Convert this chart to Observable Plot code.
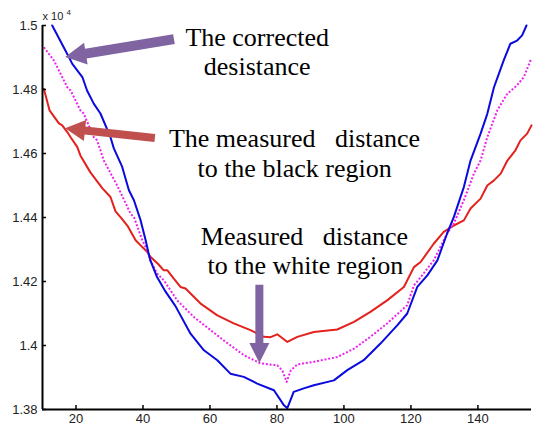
<!DOCTYPE html>
<html>
<head>
<meta charset="utf-8">
<script src="https://cdn.jsdelivr.net/npm/d3@7"></script>
<script src="https://cdn.jsdelivr.net/npm/@observablehq/plot@0.6"></script>
<style>
  body { margin: 0; background: #fff; }
  svg text { white-space: pre; }
</style>
</head>
<body>
<div id="chart"></div>
<script>
// ---- Data (values are raw distances; axis shows ×10^4) ----
const xTicks = [20, 40, 60, 80, 100, 120, 140];
const yTicks = [13800, 14000, 14200, 14400, 14600, 14800, 15000];

// The corrected distance (blue, solid)
const xCorrected = [12.9,17.9,18.9,21.9,23.3,25.3,27.3,30.3,31.3,33.8,35.8,37.3,39.3,40.8,41.7,42.2,44.2,46.7,49.7,54.2,58.2,62.2,66.1,70.1,74.1,79.1,82.1,83.1,85.0,88.0,91.0,97.0,101.0,105.9,110.9,115.9,118.9,121.9,124.9,127.9,130.8,132.8,135.8,137.8,140.8,142.8,144.8,147.7,149.7,151.7,153.2,154.5];
const corrected = [15000,14901,14880,14839,14797,14756,14725,14651,14616,14558,14485,14454,14391,14329,14287,14266,14214,14169,14123,14037,13985,13954,13912,13902,13881,13860,13813,13804,13855,13866,13876,13891,13923,13954,14006,14063,14100,14183,14219,14266,14350,14401,14495,14578,14662,14724,14807,14891,14943,14953,14969,15000];

// Measured distance to the white region (magenta, dotted)
const xWhite = [10.4,13.4,14.4,17.4,18.4,21.3,22.3,25.3,26.3,27.3,28.3,32.3,36.3,37.3,39.8,41.3,42.2,44.2,46.2,48.2,50.2,55.2,60.2,64.1,70.1,75.1,80.1,81.6,82.9,84.1,86.1,91.0,98.0,103.0,107.9,112.9,118.9,120.9,122.9,126.8,130.8,132.8,135.8,138.8,140.8,142.8,145.8,148.8,151.7,153.7,155.9];
const white = [14932,14891,14870,14807,14797,14735,14725,14651,14641,14610,14578,14500,14412,14401,14329,14297,14266,14225,14204,14173,14141,14089,14048,14016,13970,13944,13938,13922,13886,13922,13941,13949,13964,13990,14027,14069,14126,14188,14213,14266,14350,14381,14454,14537,14578,14651,14735,14787,14813,14839,14896];

// Measured distance to the black region (red, solid)
const xBlack = [10.4,12.1,14.9,15.9,17.4,18.4,20.4,21.3,24.3,27.9,30.3,31.8,33.6,35.5,37.8,39.3,41.3,42.2,44.6,46.2,47.3,49.2,51.2,52.7,57.2,62.2,67.1,72.1,76.1,78.1,80.1,83.1,86.1,91.0,98.0,103.0,107.9,112.9,117.9,120.9,122.9,126.8,129.8,132.8,135.8,137.8,140.8,142.8,144.8,146.8,148.8,151.2,152.7,154.7,156.0];
const black = [14802,14735,14694,14688,14667,14651,14620,14594,14541,14491,14464,14419,14397,14372,14329,14313,14292,14277,14254,14235,14235,14209,14183,14178,14131,14094,14069,14048,14027,14026,14035,14011,14027,14042,14050,14074,14105,14141,14183,14245,14261,14318,14355,14375,14391,14428,14459,14500,14516,14537,14578,14610,14641,14662,14688];

// Annotation labels (anchor in data coordinates)
const labelText = ["The corrected", "desistance", "The measured   distance", "to the black region", "Measured   distance", "to the white region"];
const labelX = [74.1, 74.1, 85.25, 85.25, 88.2, 88.5];
const labelY = [14963, 14870, 14646, 14552, 14339, 14248];

// Annotation arrows: tail (x1,y1) -> tip (x2,y2), data coordinates
const arrowX1 = [49.4, 43.7, 74.9];
const arrowY1 = [14956, 14647, 14188];
const arrowX2 = [16.9, 16.9, 74.9];
const arrowY2 = [14900, 14677, 13944];
const arrowColor = ["#8064a2", "#c0504d", "#8064a2"];

// ---- Build tables ----
const toRows = (xs, ys) => xs.map((x, i) => ({x, y: ys[i]}));
const rowsCorrected = toRows(xCorrected, corrected);
const rowsWhite = toRows(xWhite, white);
const rowsBlack = toRows(xBlack, black);
const labels = labelText.map((t, i) => ({t, x: labelX[i], y: labelY[i]}));
const arrows = arrowX1.map((x1, i) => ({x1, y1: arrowY1[i], x2: arrowX2[i], y2: arrowY2[i], color: arrowColor[i]}));

// custom block-arrow mark, positioned through the plot's scales
function blockArrows(data, {shaft = 9, head = 21, headLen = 20} = {}) {
  return (index, scales) => {
    const g = d3.create("svg:g");
    for (const a of data) {
      const x1 = scales.x(a.x1), y1 = scales.y(a.y1), x2 = scales.x(a.x2), y2 = scales.y(a.y2);
      const dx = x2 - x1, dy = y2 - y1, L = Math.hypot(dx, dy);
      const ux = dx / L, uy = dy / L, nx = -uy, ny = ux;
      const sw = shaft / 2, hw = head / 2;
      const bx = x2 - ux * headLen, by = y2 - uy * headLen;
      const pts = [
        [x1 + nx * sw, y1 + ny * sw], [bx + nx * sw, by + ny * sw], [bx + nx * hw, by + ny * hw],
        [x2, y2],
        [bx - nx * hw, by - ny * hw], [bx - nx * sw, by - ny * sw], [x1 - nx * sw, y1 - ny * sw]
      ];
      g.append("polygon").attr("points", pts.map(p => p.join(",")).join(" ")).attr("fill", a.color);
    }
    return g.node();
  };
}

const chart = Plot.plot({
  width: 537,
  height: 430,
  marginLeft: 42,
  marginRight: 6,
  marginTop: 25,
  marginBottom: 21,
  style: {fontFamily: "'Liberation Sans', Arial, sans-serif", background: "#fff", color: "#222"},
  x: {domain: [10, 156]},
  y: {domain: [13800, 15000]},
  marks: [
    // data lines
    Plot.line(rowsBlack, {x: "x", y: "y", stroke: "#e3211d", strokeWidth: 2}),
    Plot.line(rowsWhite, {x: "x", y: "y", stroke: "#ee22ee", strokeWidth: 2, strokeDasharray: "2,1.8", strokeLinecap: "butt"}),
    Plot.line(rowsCorrected, {x: "x", y: "y", stroke: "#0a0ade", strokeWidth: 2}),
    // axes
    Plot.axisX({ticks: xTicks, tickSize: 0, tickPadding: 4, label: null, fontSize: 13, fill: "#222"}),
    Plot.axisY({ticks: yTicks, tickSize: 0, tickPadding: 5, label: null, fontSize: 13, fill: "#222",
      tickFormat: d => String(d / 1e4)}),
    Plot.ruleX(xTicks, {x: d => d, y1: 13800, y2: 13800, insetTop: -4, stroke: "#000", strokeWidth: 1.5}),
    Plot.ruleY(yTicks, {y: d => d, x1: 10, x2: 10, insetRight: -4, stroke: "#000", strokeWidth: 1.5}),
    Plot.ruleX([10], {stroke: "#000", strokeWidth: 2}),
    Plot.ruleY([13800], {stroke: "#000", strokeWidth: 2}),
    Plot.text(["x 10"], {frameAnchor: "top-left", text: d => d, textAnchor: "start", lineAnchor: "bottom", dy: -6, fontSize: 11, fill: "#222"}),
    Plot.text(["4"], {frameAnchor: "top-left", text: d => d, textAnchor: "start", lineAnchor: "bottom", dx: 24, dy: -11, fontSize: 8, fill: "#222"}),
    // annotations
    blockArrows(arrows.slice(0, 1), {shaft: 10, head: 22, headLen: 21}),
    blockArrows(arrows.slice(1, 2), {shaft: 8, head: 21, headLen: 20}),
    blockArrows(arrows.slice(2, 3), {shaft: 8, head: 20, headLen: 20}),
    Plot.text(labels, {x: "x", y: "y", text: "t", fontFamily: "'Liberation Serif', 'Times New Roman', serif",
      fontSize: 26, fill: "#000", textAnchor: "middle", lineAnchor: "middle"})
  ]
});
document.getElementById("chart").appendChild(chart);
</script>
</body>
</html>
